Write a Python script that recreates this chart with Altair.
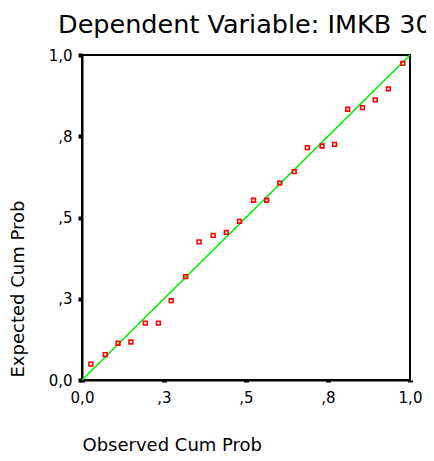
import altair as alt
import pandas as pd

# Observed vs expected cumulative probabilities
observed = [0.027, 0.071, 0.110, 0.149, 0.193, 0.233, 0.272, 0.316, 0.357, 0.400,
            0.440, 0.480, 0.523, 0.563, 0.603, 0.647, 0.687, 0.732, 0.770, 0.810,
            0.855, 0.894, 0.934, 0.978]
expected = [0.049, 0.078, 0.113, 0.117, 0.175, 0.175, 0.244, 0.318, 0.425, 0.445,
            0.454, 0.488, 0.553, 0.553, 0.606, 0.641, 0.715, 0.720, 0.725, 0.833,
            0.838, 0.862, 0.896, 0.974]

# Reference diagonal
diag_x = [0.0, 1.0]
diag_y = [0.0, 1.0]

tick_values = [0.0, 0.25, 0.5, 0.75, 1.0]
tick_labels = ["0,0", ",3", ",5", ",8", "1,0"]

title_text = "Dependent Variable: IMKB 30"
x_title = "Observed Cum Prob"
y_title = "Expected Cum Prob"

pts = pd.DataFrame({"obs": observed, "exp": expected})
diag = pd.DataFrame({"x": [diag_x[0]], "y": [diag_y[0]], "x2": [diag_x[1]], "y2": [diag_y[1]]})

label_expr = ""
for v, l in zip(tick_values, tick_labels):
    label_expr += f"abs(datum.value - {v}) < 1e-6 ? '{l}' : "
label_expr += "''"

FONT = "DejaVu Sans"

xscale = alt.Scale(domain=[0, 1], nice=False, zero=False)
yscale = alt.Scale(domain=[0, 1], nice=False, zero=False)

x_axis = alt.Axis(values=tick_values, labelExpr=label_expr, grid=False,
                  domainColor="black", domainWidth=2, tickColor="black",
                  tickSize=2, tickWidth=5, labelPadding=8, labelFont=FONT,
                  labelFontSize=15, labelColor="black", labelFlush=False,
                  title=x_title, titleFont=FONT, titleFontSize=18,
                  titleFontWeight="normal", titleColor="black",
                  titleX=0, titleY=70, titleAlign="left", titleBaseline="alphabetic")
y_axis = alt.Axis(values=tick_values, labelExpr=label_expr, grid=False,
                  domainColor="black", domainWidth=2, tickColor="black",
                  tickSize=4, tickWidth=4, labelPadding=6, labelFont=FONT,
                  labelFontSize=15, labelColor="black", labelFlush=False,
                  labelBaseline="middle",
                  title=y_title, titleFont=FONT, titleFontSize=18,
                  titleFontWeight="normal", titleColor="black",
                  titleX=-64, titleY=322, titleAngle=270, titleAlign="left",
                  titleBaseline="middle")

line = alt.Chart(diag).mark_rule(color="#00ee00", strokeWidth=1.6).encode(
    x=alt.X("x:Q", scale=xscale, axis=x_axis),
    y=alt.Y("y:Q", scale=yscale, axis=y_axis),
    x2="x2:Q",
    y2="y2:Q",
)

points = alt.Chart(pts).mark_point(shape="square", filled=False, size=14,
                                   color="#ff0000", strokeWidth=1.6,
                                   opacity=1).encode(
    x=alt.X("obs:Q", scale=xscale),
    y=alt.Y("exp:Q", scale=yscale),
)

chart = alt.layer(line, points).properties(
    width=328,
    height=325,
    title=alt.TitleParams(title_text, anchor="start", frame="group", dx=-24,
                          offset=-10, font=FONT, fontSize=25.5,
                          fontWeight="normal", color="black",
                          baseline="alphabetic"),
    autosize=alt.AutoSizeParams(type="none"),
    padding={"left": 74, "top": 47, "right": 16, "bottom": 73},
    view=alt.ViewBackground(stroke="black", strokeWidth=2),
).configure_view(stroke="black", strokeWidth=2).configure(background="white")

chart.save("out.html", embed_options={"renderer": "svg", "actions": False})
